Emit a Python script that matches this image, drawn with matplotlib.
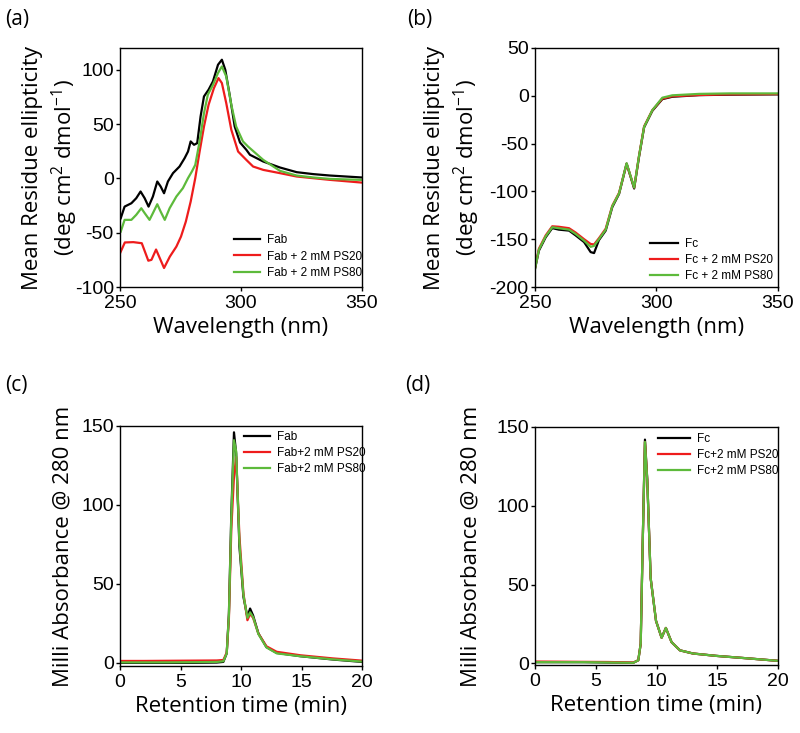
import matplotlib
matplotlib.use("Agg")
import matplotlib.pyplot as plt

# ---------------- data ----------------
# (a) CD spectra of Fab
fab_wl = [250.3, 251.9, 254.7, 256.7, 258.5, 260.2, 261.8, 263.6, 265.4, 266.8, 268.2, 269.8, 271.9,
          274.6, 276.7, 278.1, 279.2, 280.6, 281.9, 283.3, 284.7, 286.6, 288.4, 290.5, 292.1, 293.5,
          295.3, 297.4, 299.6, 302.2, 303.7, 309.2, 316.1, 323, 329.9, 336.8, 350]
fab_cd = [-36.7, -26, -22.9, -18.3, -12.1, -18.3, -26, -16.7, -2.9, -7.5, -13.7, -2.9, 4.8,
          10.9, 18.6, 24.7, 34, 30.9, 32.4, 57, 75.4, 81.6, 89.2, 104.6, 109.2, 100,
          77, 47.7, 33, 26.3, 21.7, 15.5, 10, 5.7, 3.9, 2.6, 0.8]

fab20_wl = [250, 252, 255.5, 259, 261.7, 263, 264.9, 268.2, 270.6, 273.3, 275.2, 277.2, 279.2, 281.1,
            282.9, 284.7, 286.6, 288.8, 290.7, 292.1, 293.9, 296, 298.8, 302.2, 305, 309.2, 316.1,
            323, 336.8, 350]
fab20_cd = [-69, -59, -58.7, -59.7, -75.8, -75, -65.5, -82.5, -72, -62.8, -53.6, -39.8, -21.4, 0.2,
            24.7, 47.7, 67.7, 83, 92.3, 87.7, 69.3, 44.7, 24.7, 17, 10.9, 7.8, 4.8,
            1.7, -1.4, -3.9]

fab80_wl = [250.3, 251.9, 254.7, 256.7, 258.8, 260.2, 262.2, 263.6, 265.4, 266.8, 268.5, 270.5, 273.3,
            276, 278.1, 279.7, 281.1, 282.9, 284.7, 286.3, 288.4, 290.5, 292.1, 293.9, 296, 298,
            300.8, 302.9, 309.2, 316.1, 323, 329.9, 336.8, 350]
fab80_cd = [-49, -38.2, -38.2, -33.6, -27.5, -32, -38.2, -32, -23.8, -30.6, -38.2, -27.5, -16.7,
            -9, 0.2, 6.3, 12.4, 34, 60, 77, 86, 97, 103, 93.8, 67.7, 47.7,
            34, 29.3, 17, 6.9, 2.6, 0.8, -0.5, -1.4]

# (b) CD spectra of Fc
fc_wl = [250, 251.6, 254.4, 257.1, 259.8, 264, 266.7, 270.2, 272.9, 274.3, 276.3, 279.1, 281.8,
         284.6, 287.7, 290.8, 292.8, 294.9, 298.3, 302.4, 306.5, 317.5, 330, 350]
fc_cd = [-181, -162, -148, -138.4, -140, -141, -146, -153, -163.5, -164.5, -151, -141, -116.5,
         -102.6, -71, -97, -64, -33, -15.7, -3.5, -1, 0.7, 1.2, 1.5]
fc20_cd = [-180, -160, -146, -136.5, -137, -138.5, -143, -150, -155, -155.5, -149, -139, -115,
           -101.5, -71, -96, -63, -32, -15, -3, -0.5, 0.8, 1.5, 1.8]
fc80_cd = [-181, -161, -147, -137.5, -138.5, -140, -144.5, -151.5, -158, -157, -150, -140, -115.5,
           -102, -70.5, -96, -63, -32.5, -15, -2, 0.5, 2.0, 2.5, 2.5]

# (c) SEC of Fab
sec_fab_t = [0, 2, 4, 6, 8, 8.54, 8.82, 9.0, 9.2, 9.42, 9.6, 9.87, 10.2, 10.53, 10.75, 11.0, 11.44,
             12.1, 12.95, 14.9, 17.6, 20]
sec_fab = [0, 0, 0, 0, 0.2, 0.6, 6, 31, 94.6, 146, 132.6, 73.5, 41.8, 29, 34.4, 30, 18.6,
           10, 6.3, 4.2, 2.1, 0.6]
sec_fab20 = [1.2, 1.2, 1.3, 1.4, 1.5, 1.8, 6.5, 28, 85, 118, 130.5, 80, 44, 27, 31, 28.5, 18.5,
             10.5, 7.0, 4.8, 2.8, 1.4]
sec_fab80 = [0.3, 0.3, 0.3, 0.4, 0.6, 1.0, 6, 30, 92, 141, 134, 76, 43, 28.5, 32, 29, 18.2,
             9.8, 6.0, 4.2, 2.2, 0.8]

# (d) SEC of Fc
sec_fc_t = [0, 2, 4, 6, 8.09, 8.5, 8.7, 8.86, 9.05, 9.24, 9.52, 9.96, 10.42, 10.77, 11.24, 11.93,
            13.0, 14.9, 17.7, 19.9]
sec_fc = [0.8, 0.8, 0.8, 0.6, 0.4, 2, 12.5, 75, 142, 116.7, 54, 27, 16.3, 22.5, 13.5, 8.3,
          6.3, 4.8, 3.1, 1.7]
sec_fc20 = [1.2, 1.1, 1.0, 0.9, 0.6, 2, 12.5, 75, 140.5, 116, 54, 27, 16.3, 22.5, 13.5, 8.3,
            6.3, 4.8, 3.1, 1.7]
sec_fc80 = [0.8, 0.8, 0.8, 0.6, 0.4, 2, 12.5, 75, 140.5, 116, 54, 27, 16.3, 22.5, 13.5, 8.3,
            6.3, 4.8, 3.1, 1.7]

labels_a = ["Fab", "Fab + 2 mM PS20", "Fab + 2 mM PS80"]
labels_b = ["Fc", "Fc + 2 mM PS20", "Fc + 2 mM PS80"]
labels_c = ["Fab", "Fab+2 mM PS20", "Fab+2 mM PS80"]
labels_d = ["Fc", "Fc+2 mM PS20", "Fc+2 mM PS80"]

# ---------------- style ----------------
plt.rcParams['mathtext.fontset'] = 'custom'
plt.rcParams['mathtext.rm'] = 'Open Sans'
plt.rcParams['mathtext.it'] = 'Open Sans'
plt.rcParams['axes.unicode_minus'] = False
BLACK = '#000000'
RED = '#ee1c1c'
GREEN = '#5dba3b'
TICKFONT = 'Liberation Sans'
LABFONT = 'Open Sans'

fig = plt.figure(figsize=(8.0, 7.33), dpi=100)
W, H = 800.0, 733.0

def make_ax(l, t, r, b):
    return fig.add_axes([l / W, 1 - b / H, (r - l) / W, (b - t) / H])

ax_a = make_ax(120, 48, 362, 287)
ax_b = make_ax(535, 48, 778, 287)
ax_c = make_ax(120, 426, 362, 666)
ax_d = make_ax(535, 427, 778, 665)

def style(ax):
    for s in ax.spines.values():
        s.set_linewidth(1.0)
    ax.tick_params(direction='out', length=3, width=1, top=False, right=False,
                   labelsize=14, labelfontfamily=TICKFONT)
    ax.tick_params(axis='y', pad=1.5)
    ax.tick_params(axis='x', pad=2.5)

lw = 1.6
# (a)
ax_a.plot(fab_wl, fab_cd, color=BLACK, lw=lw, label=labels_a[0])
ax_a.plot(fab20_wl, fab20_cd, color=RED, lw=lw, label=labels_a[1])
ax_a.plot(fab80_wl, fab80_cd, color=GREEN, lw=lw, label=labels_a[2])
ax_a.set_xlim(250, 350)
ax_a.set_ylim(-100, 120)
ax_a.set_xticks([250, 300, 350])
ax_a.set_yticks([-100, -50, 0, 50, 100])

# (b)
ax_b.plot(fc_wl, fc_cd, color=BLACK, lw=lw, label=labels_b[0])
ax_b.plot(fc_wl, fc20_cd, color=RED, lw=lw, label=labels_b[1])
ax_b.plot(fc_wl, fc80_cd, color=GREEN, lw=lw, label=labels_b[2])
ax_b.set_xlim(250, 350)
ax_b.set_ylim(-200, 50)
ax_b.set_xticks([250, 300, 350])
ax_b.set_yticks([-200, -150, -100, -50, 0, 50])

# (c)
ax_c.plot(sec_fab_t, sec_fab, color=BLACK, lw=lw, label=labels_c[0])
ax_c.plot(sec_fab_t, sec_fab20, color=RED, lw=lw, label=labels_c[1])
ax_c.plot(sec_fab_t, sec_fab80, color=GREEN, lw=lw, label=labels_c[2])
ax_c.set_xlim(0, 20)
ax_c.set_ylim(-2, 150)
ax_c.set_xticks([0, 5, 10, 15, 20])
ax_c.set_yticks([0, 50, 100, 150])

# (d)
ax_d.plot(sec_fc_t, sec_fc, color=BLACK, lw=lw, label=labels_d[0])
ax_d.plot(sec_fc_t, sec_fc20, color=RED, lw=lw, label=labels_d[1])
ax_d.plot(sec_fc_t, sec_fc80, color=GREEN, lw=lw, label=labels_d[2])
ax_d.set_xlim(0, 20)
ax_d.set_ylim(-1, 150)
ax_d.set_xticks([0, 5, 10, 15, 20])
ax_d.set_yticks([0, 50, 100, 150])

for ax in (ax_a, ax_b, ax_c, ax_d):
    style(ax)

cd_ylabel = "Mean Residue ellipticity\n(deg cm$^{2}$ dmol$^{\\mathregular{-1}}$)"
for ax in (ax_a, ax_b):
    ax.set_xlabel("Wavelength (nm)", fontfamily=LABFONT, fontsize=16, labelpad=4)
    ax.set_ylabel(cd_ylabel, fontfamily=LABFONT, fontsize=16, linespacing=1.3)
for ax in (ax_c, ax_d):
    ax.set_xlabel("Retention time (min)", fontfamily=LABFONT, fontsize=16, labelpad=4)
    ax.set_ylabel("Milli Absorbance @ 280 nm", fontfamily=LABFONT, fontsize=16)

# place the y-labels (right edge of the label block, in axes fractions)
ax_a.yaxis.set_label_coords((80 - 120) / 242, 0.5)
ax_b.yaxis.set_label_coords((482 - 535) / 243, 0.5)
ax_c.yaxis.set_label_coords((74 - 120) / 242, 0.5)
ax_d.yaxis.set_label_coords((482 - 535) / 243, 0.5)

leg_kw = dict(frameon=False, borderpad=0, borderaxespad=0, labelspacing=0.35,
              handletextpad=0.6, prop={'family': TICKFONT, 'size': 8.5}, loc='upper left')
ax_a.legend(bbox_to_anchor=(0.471, 0.22), handlelength=2.2, **leg_kw)
ax_b.legend(bbox_to_anchor=(0.473, 0.205), handlelength=2.4, **leg_kw)
ax_c.legend(bbox_to_anchor=(0.512, 0.98), handlelength=2.2, **leg_kw)
ax_d.legend(bbox_to_anchor=(0.506, 0.975), handlelength=2.7, **leg_kw)

for txt, x, y in (("(a)", 5, 20), ("(b)", 407, 20), ("(c)", 5, 385), ("(d)", 405, 385)):
    fig.text(x / W, 1 - y / H, txt, fontfamily=LABFONT, fontsize=15, ha='left', va='center')

fig.savefig("out.png", dpi=100)
